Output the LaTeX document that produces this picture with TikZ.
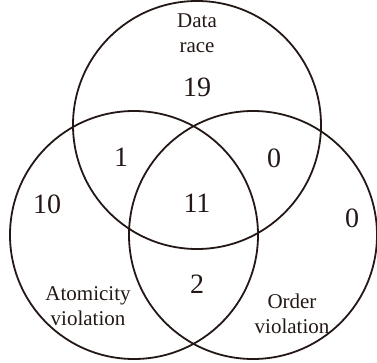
\documentclass[tikz,border=0pt]{standalone}
\usepackage{fontspec}
\setmainfont{Liberation Serif}
\definecolor{ink}{HTML}{231815}
\tikzset{
  setring/.style={circle, draw=ink, line width=1.8pt, minimum size=248pt, inner sep=0pt},
  cnt/.style={text=ink, font=\fontsize{28}{30}\selectfont, inner sep=0pt},
  lbl/.style={text=ink, align=center, font=\fontsize{21}{25}\selectfont, inner sep=0pt}
}
\begin{document}
\begin{tikzpicture}[x=1pt, y=-1pt]
  \useasboundingbox (0,0) rectangle (377,363);
  % the three sets
  \node[setring] (race) at (197,125) {};
  \node[setring] (atom) at (134,235) {};
  \node[setring] (order) at (253,235) {};
  % set names
  \node[lbl] (racename) at (197,33) {Data\\race};
  \node[lbl] (atomname) at (88,306) {Atomicity\\violation};
  \node[lbl] (ordername) at (292,314) {Order\\violation};
  % counts per region
  \foreach \nm/\vl/\px/\py in {r/19/197/87, ra/1/121/157, ro/0/274/158, a/10/47/204,
                               rao/11/197/203, o/0/352/218, ao/2/197/284}{
    \node[cnt] (n\nm) at (\px,\py) {\vl};
  }
\end{tikzpicture}
\end{document}
